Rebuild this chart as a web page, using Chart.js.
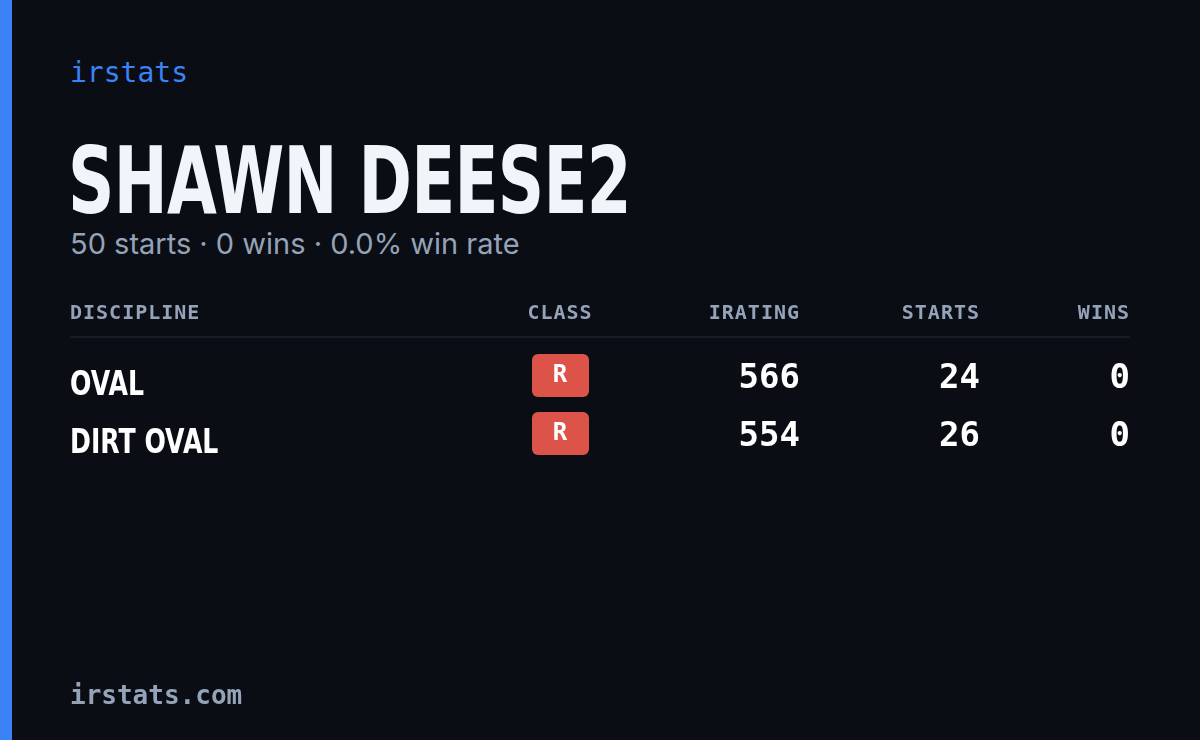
<!DOCTYPE html>
<html>
<head>
<meta charset="utf-8">
<script src="https://cdn.jsdelivr.net/npm/chart.js@4"></script>
<style>
  html, body { margin: 0; padding: 0; background: #0a0d14; }
  #card { position: relative; width: 1200px; height: 740px; background: #0a0d14; overflow: hidden; }
  #bar { position: absolute; left: 0; top: 0; width: 12px; height: 740px; background: #3b82f6; }
  .mono { font-family: "DejaVu Sans Mono", "Liberation Mono", monospace; }
  #brand { position: absolute; left: 70px; top: 56px; font-size: 28px; color: #3b82f6; font-weight: 500; }
  #name { position: absolute; left: 68px; top: 128px; font-family: "DejaVu Sans", sans-serif;
          font-weight: bold; font-size: 92px; color: #f1f5f9; letter-spacing: -1px;
          transform: scaleX(0.7); transform-origin: left top; white-space: nowrap; }
  #sub { position: absolute; left: 70px; top: 226px; font-family: "Inter", "Noto Sans", sans-serif; font-size: 29px; color: #94a3b8; }
  #foot { position: absolute; left: 70px; top: 680px; font-size: 26px; color: #94a3b8; font-weight: bold; }
  #wrap { position: absolute; left: 0; top: 0; width: 1200px; height: 740px; }
</style>
</head>
<body>
<div id="card">
  <div id="bar"></div>
  <div id="brand" class="mono">irstats</div>
  <div id="name">SHAWN DEESE2</div>
  <div id="sub">50 starts · 0 wins · 0.0% win rate</div>
  <div id="wrap"><canvas id="table"></canvas></div>
  <div id="foot" class="mono">irstats.com</div>
</div>
<script>
const columns = ['DISCIPLINE', 'CLASS', 'IRATING', 'STARTS', 'WINS']
const disciplines = ['OVAL', 'DIRT OVAL']
const classes = ['R', 'R']
const iratings = [566, 554]
const starts = [24, 26]
const wins = [0, 0]

// layout (pixel units on hidden 0..1200 / 0..740 scales)
const colX = [70, 560, 800, 980, 1130]
const colAlign = ['left', 'center', 'right', 'right', 'right']
const headerY = 313
const ruleY = 337
const rowY = [378, 436]

const tablePlugin = {
  id: 'tableCells',
  afterDraw(chart) {
    const { ctx, scales: { x, y } } = chart
    ctx.save()
    ctx.textBaseline = 'middle'
    ctx.font = 'bold 20px "DejaVu Sans Mono", monospace'
    ctx.fillStyle = '#94a3b8'
    columns.forEach((c, i) => {
      ctx.textAlign = colAlign[i]
      ctx.letterSpacing = '1px'
      ctx.fillText(c, x.getPixelForValue(colX[i]), y.getPixelForValue(headerY) + 1)
    })
    ctx.strokeStyle = '#1c2230'
    ctx.lineWidth = 1.5
    ctx.beginPath()
    ctx.moveTo(x.getPixelForValue(70), y.getPixelForValue(ruleY))
    ctx.lineTo(x.getPixelForValue(1130), y.getPixelForValue(ruleY))
    ctx.stroke()

    disciplines.forEach((d, r) => {
      const py = y.getPixelForValue(rowY[r])
      ctx.letterSpacing = '0px'
      ctx.textAlign = 'left'
      ctx.fillStyle = '#ffffff'
      ctx.font = 'bold 34px "DejaVu Sans", sans-serif'
      ctx.save()
      ctx.translate(x.getPixelForValue(colX[0]), py + 8)
      ctx.scale(0.74, 1)
      ctx.fillText(d, 0, 0)
      ctx.restore()

      const cx = x.getPixelForValue(colX[1])
      ctx.fillStyle = '#dc5349'
      ctx.beginPath()
      ctx.roundRect(cx - 28, py - 24, 57, 43, 6)
      ctx.fill()
      ctx.fillStyle = '#ffffff'
      ctx.textAlign = 'center'
      ctx.font = 'bold 24px "DejaVu Sans Mono", monospace'
      ctx.fillText(classes[r], cx, py - 2)

      ctx.font = 'bold 34px "DejaVu Sans Mono", monospace'
      ctx.textAlign = 'right'
      ;[iratings[r], starts[r], wins[r]].forEach((v, k) => {
        ctx.fillText(String(v), x.getPixelForValue(colX[k + 2]), py + 1)
      })
    })
    ctx.restore()
  }
}

document.fonts.ready.then(() => {
  new Chart(document.getElementById('table').getContext('2d'), {
    type: 'scatter',
    data: { datasets: [{ data: [] }] },
    options: {
      responsive: false,
      animation: false,
      events: [],
      layout: { padding: 0 },
      plugins: { legend: { display: false }, tooltip: { enabled: false } },
      scales: {
        x: { type: 'linear', min: 0, max: 1200, display: false },
        y: { type: 'linear', min: 0, max: 740, reverse: true, display: false }
      }
    },
    plugins: [tablePlugin]
  })
})
const cv = document.getElementById('table')
cv.width = 1200; cv.height = 740
cv.style.width = '1200px'; cv.style.height = '740px'
</script>
</body>
</html>
